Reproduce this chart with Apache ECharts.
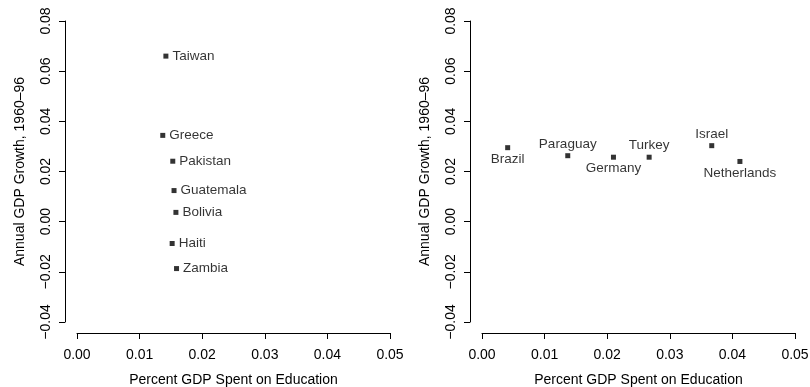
<!DOCTYPE html>
<html>
<head>
<meta charset="utf-8">
<script src="https://cdn.jsdelivr.net/npm/echarts@6/dist/echarts.min.js"></script>
<style>html,body{margin:0;padding:0;background:#fff}#c{width:810px;height:387px}</style>
</head>
<body>
<div id="c"></div>
<script>
const leftCountries = ['Taiwan','Greece','Pakistan','Guatemala','Bolivia','Haiti','Zambia'];
const leftEdu = [0.0142, 0.0137, 0.0153, 0.0155, 0.0158, 0.0152, 0.0159];
const leftGrowth = [0.066, 0.0344, 0.0241, 0.0124, 0.0037, -0.0087, -0.0187];

const rightCountries = ['Brazil','Paraguay','Germany','Turkey','Israel','Netherlands'];
const rightEdu = [0.0041, 0.0137, 0.0210, 0.0267, 0.0367, 0.0412];
const rightGrowth = [0.0295, 0.0263, 0.0257, 0.0257, 0.0303, 0.0240];
const rightLabelSide = ['bottom','top','bottom','top','top','bottom'];

const xTicks = {min: 0, max: 0.05, interval: 0.01};
const yTicks = {min: -0.04, max: 0.08, interval: 0.02};
const xTitle = 'Percent GDP Spent on Education';
const yTitle = 'Annual GDP Growth, 1960\u201396';

const FONT = '"Liberation Sans", Arial, Helvetica, sans-serif';
const fmt = v => (Math.abs(v) < 1e-9 ? 0 : v).toFixed(2).replace('-', '\u2212');

function xAxis(gi) {
  return {
    type: 'value', gridIndex: gi, min: xTicks.min, max: xTicks.max, interval: xTicks.interval,
    offset: 11, position: 'bottom',
    axisLine: {show: true, onZero: false, lineStyle: {color: '#000', width: 1}},
    axisTick: {show: true, length: 6, inside: false, lineStyle: {color: '#000'}},
    splitLine: {show: false},
    axisLabel: {formatter: fmt, color: '#000', fontSize: 14, fontFamily: FONT, margin: 15, showMinLabel: true, showMaxLabel: true},
    name: xTitle, nameLocation: 'middle', nameGap: 40,
    nameTextStyle: {color: '#000', fontSize: 14, fontFamily: FONT}
  };
}
function yAxis(gi) {
  return {
    type: 'value', gridIndex: gi, min: yTicks.min, max: yTicks.max, interval: yTicks.interval,
    offset: 12, position: 'left',
    axisLine: {show: true, onZero: false, lineStyle: {color: '#000', width: 1}},
    axisTick: {show: true, length: 6, inside: false, lineStyle: {color: '#000'}},
    splitLine: {show: false},
    axisLabel: {formatter: fmt, color: '#000', fontSize: 14, fontFamily: FONT, rotate: 90, margin: 12, showMinLabel: true, showMaxLabel: true},
    name: yTitle, nameLocation: 'middle', nameGap: 38, nameRotate: 90,
    nameTextStyle: {color: '#000', fontSize: 14, fontFamily: FONT}
  };
}

const leftData = leftCountries.map((n, i) => ({name: n, value: [leftEdu[i], leftGrowth[i]]}));
const rightData = rightCountries.map((n, i) => ({name: n, value: [rightEdu[i], rightGrowth[i]],
  label: {position: rightLabelSide[i]}}));

const chart = echarts.init(document.getElementById('c'), null, {renderer: 'canvas'});
chart.setOption({
  animation: false,
  backgroundColor: '#fff',
  grid: [
    {left: 77, top: 21, width: 313, height: 301, containLabel: false, outerBoundsMode: 'none'},
    {left: 482, top: 21, width: 313, height: 301, containLabel: false, outerBoundsMode: 'none'}
  ],
  xAxis: [xAxis(0), xAxis(1)],
  yAxis: [yAxis(0), yAxis(1)],
  series: [
    {type: 'scatter', xAxisIndex: 0, yAxisIndex: 0, symbol: 'rect', symbolSize: 5,
     itemStyle: {color: '#000'}, data: leftData,
     label: {show: true, position: 'right', distance: 4, formatter: p => p.name, color: '#000', fontSize: 13.5, fontFamily: FONT}},
    {type: 'scatter', xAxisIndex: 1, yAxisIndex: 1, symbol: 'rect', symbolSize: 5,
     itemStyle: {color: '#000'}, data: rightData,
     label: {show: true, distance: 2, formatter: p => p.name, color: '#000', fontSize: 13.5, fontFamily: FONT}}
  ]
});
</script>
</body>
</html>
